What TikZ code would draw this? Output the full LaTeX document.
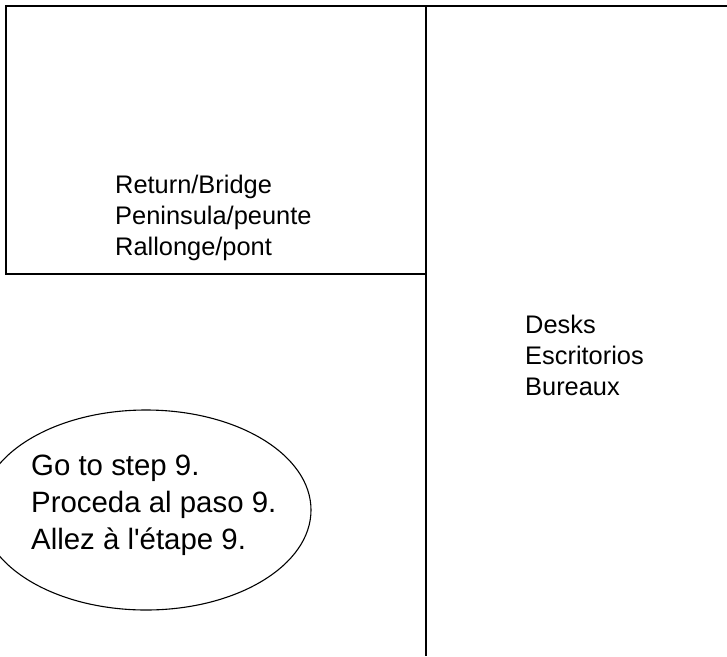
\documentclass[tikz,border=0pt]{standalone}
\usepackage{fontspec}
\newfontfamily\helv{Liberation Sans}
\usetikzlibrary{positioning}

\tikzset{
  wall/.style={line width=1.6pt},
  bubble/.style={line width=1.1pt},
  tag/.style={anchor=base west,inner sep=0pt,font=\helv\fontsize{25.4}{31}\selectfont},
  bubbletag/.style={anchor=base west,inner sep=0pt,font=\helv\fontsize{29.4}{37}\selectfont}
}

\begin{document}
\begin{tikzpicture}[x=1pt,y=-1pt]
\useasboundingbox (0,0) rectangle (727,656);

% desk outline
\draw[wall] (727,6) -- (6,6) -- (6,274) -- (426,274);
\draw[wall] (426,6) -- (426,656);

% callout
\draw[bubble] (146,510) ellipse [x radius=165,y radius=100];

\foreach \t [count=\n] in {{Return/Bridge},{Peninsula/peunte},{Rallonge/pont}}
	\node[tag] (bridge\n) at (115,162+31*\n) {\t};

\foreach \t [count=\n] in {Desks,Escritorios,Bureaux}
	\node[tag] (desk\n) at (525,302+31*\n) {\t};

\foreach \t [count=\n] in {{Go to step 9.},{Proceda al paso 9.},{Allez à l'étape 9.}}
	\node[bubbletag] (step\n) at (31,438+37*\n) {\t};
\end{tikzpicture}
\end{document}
